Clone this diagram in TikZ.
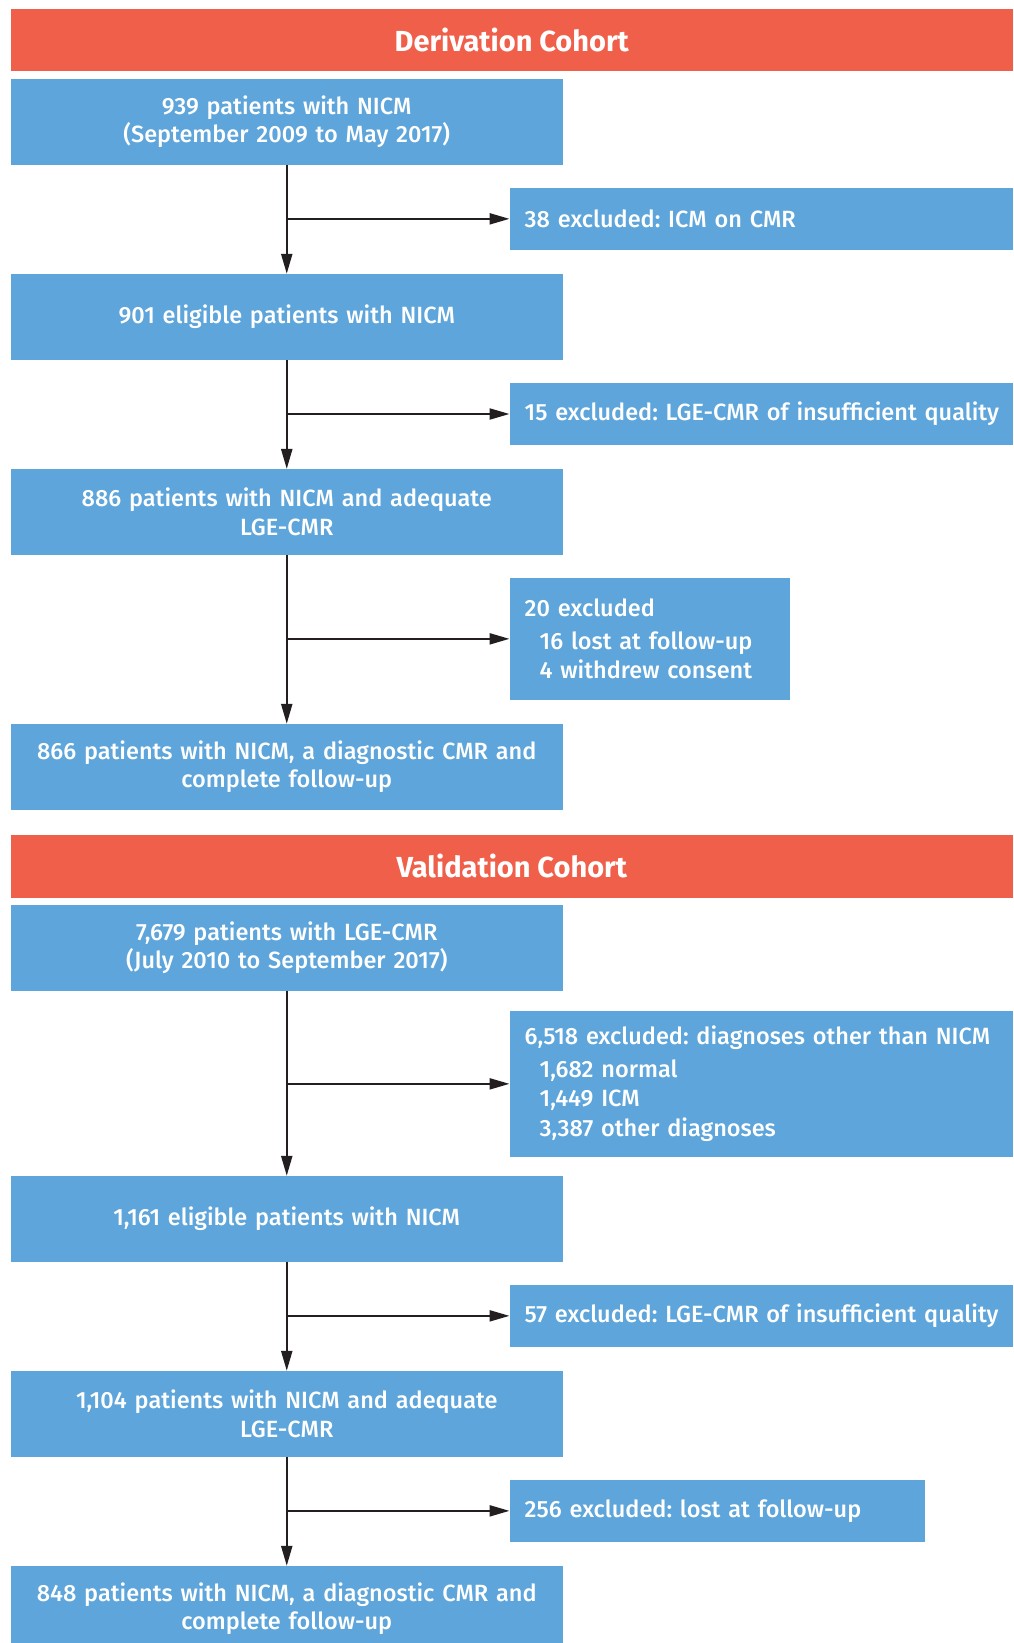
\documentclass[tikz,border=0pt]{standalone}
\usepackage{fontspec}
\setmainfont{Fira Sans}[UprightFont={* Medium},BoldFont={* Bold}]
\usetikzlibrary{arrows.meta}
\definecolor{boxblue}{RGB}{93,165,218}
\definecolor{hdrred}{RGB}{240,95,73}
\definecolor{arrgray}{RGB}{35,31,32}
\begin{document}
\frenchspacing
\hyphenpenalty=10000
\begin{tikzpicture}[x=1pt,y=-1pt,
  mainbox/.style={fill=boxblue, text=white, inner sep=0pt, minimum width=551.5pt, minimum height=85.7pt, text width=535pt, align=center, font=\fontsize{23.5}{28.5}\selectfont},
  exbox/.style={fill=boxblue, text=white, inner xsep=15pt, inner ysep=0pt, anchor=west, align=left, font=\fontsize{23.5}{29.5}\selectfont},
  hdr/.style={fill=hdrred, text=white, inner sep=0pt, minimum width=1002.5pt, minimum height=62.5pt, font=\bfseries\fontsize{29}{30}\selectfont},
  flow/.style={draw=arrgray, line width=2.2pt, -{Triangle[length=20pt,width=11pt]}}
]
\useasboundingbox (0,0) rectangle (1013,1643);
% Derivation cohort
\node[hdr] (H1) at (511.75,40.25) {Derivation Cohort};
\node[mainbox] (B1) at (286.75,121.85) {939 patients with NICM\\(September 2009 to May 2017)};
\node[exbox, minimum width=503.5pt, text width=473.5pt, minimum height=61.7pt] (E1) at (509.5,218.85) {38 excluded: ICM on CMR};
\node[mainbox] (B2) at (286.75,316.85) {901 eligible patients with NICM};
\node[exbox, minimum width=503.5pt, text width=473.5pt, minimum height=61.4pt] (E2) at (509.5,414) {\mbox{15 excluded: LGE-CMR of insufficient quality}};
\node[mainbox] (B3) at (286.75,512) {886 patients with NICM and adequate\\LGE-CMR};
\node[exbox, minimum width=280pt, text width=250pt, minimum height=121.7pt] (E3) at (509.5,638.85) {20 excluded\\[3pt]\hspace*{15pt}16 lost at follow-up\\\hspace*{15pt}4 withdrew consent};
\node[mainbox] (B4) at (286.75,766.85) {866 patients with NICM, a diagnostic CMR and\\complete follow-up};
% Validation cohort
\node[hdr] (H2) at (511.75,866.35) {Validation Cohort};
\node[mainbox] (B5) at (286.75,947.85) {7,679 patients with LGE-CMR\\(July 2010 to September 2017)};
\node[exbox, minimum width=503.5pt, text width=473.5pt, minimum height=145.7pt] (E4) at (509.5,1083.85) {\mbox{6,518 excluded: diagnoses other than NICM}\\[3pt]\hspace*{15pt}1,682 normal\\\hspace*{15pt}1,449 ICM\\\hspace*{15pt}3,387 other diagnoses};
\node[mainbox] (B6) at (286.75,1218.85) {1,161 eligible patients with NICM};
\node[exbox, minimum width=503.5pt, text width=473.5pt, minimum height=61.7pt] (E5) at (509.5,1315.85) {\mbox{57 excluded: LGE-CMR of insufficient quality}};
\node[mainbox] (B7) at (286.75,1413.85) {1,104 patients with NICM and adequate\\LGE-CMR};
\node[exbox, minimum width=415.5pt, text width=385.5pt, minimum height=61.7pt] (E6) at (509.5,1510.85) {256 excluded: lost at follow-up};
\node[mainbox] (B8) at (286.75,1608.85) {848 patients with NICM, a diagnostic CMR and\\complete follow-up};
% junctions
\coordinate (j1) at (B1.south |- E1.west);
\coordinate (j2) at (B2.south |- E2.west);
\coordinate (j3) at (B3.south |- E3.west);
\coordinate (j4) at (B5.south |- E4.west);
\coordinate (j5) at (B6.south |- E5.west);
\coordinate (j6) at (B7.south |- E6.west);
% connectors
\draw[flow] (B1.south) -- (B2.north);
\draw[flow] (B2.south) -- (B3.north);
\draw[flow] (B3.south) -- (B4.north);
\draw[flow] (B5.south) -- (B6.north);
\draw[flow] (B6.south) -- (B7.north);
\draw[flow] (B7.south) -- (B8.north);
\draw[flow] (j1) -- (E1.west);
\draw[flow] (j2) -- (E2.west);
\draw[flow] (j3) -- (E3.west);
\draw[flow] (j4) -- (E4.west);
\draw[flow] (j5) -- (E5.west);
\draw[flow] (j6) -- (E6.west);
\end{tikzpicture}
\end{document}
